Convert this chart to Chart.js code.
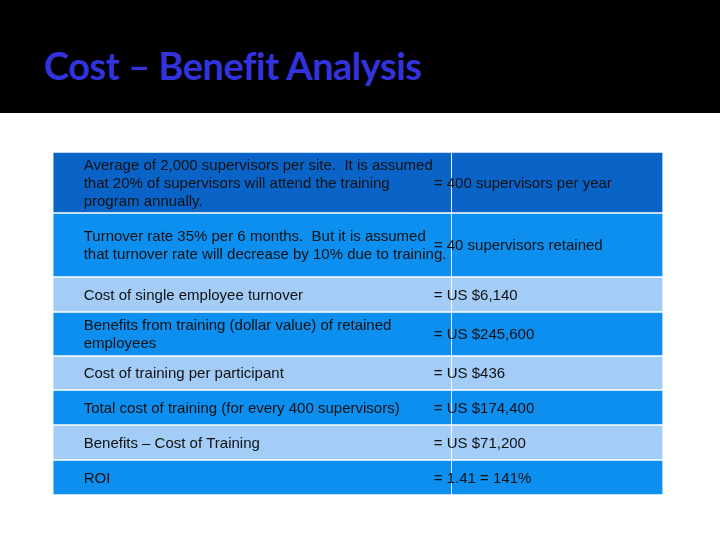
<!DOCTYPE html>
<html><head><meta charset="utf-8">
<script src="https://cdn.jsdelivr.net/npm/chart.js@4"></script>
<style>
html,body{margin:0;padding:0;background:#fff;}
#wrap{position:relative;width:720px;height:540px;}
#title{position:absolute;left:0;top:0;width:720px;height:113px;background:#000;}
#title span{position:absolute;left:44px;top:42px;font:bold 38px Lato,"Open Sans",sans-serif;color:#3333dd;letter-spacing:-0.5px;}
canvas{position:absolute;left:0;top:0;}
</style></head><body>
<div id="wrap"><canvas id="c" width="720" height="540"></canvas>
<div id="title"><span>Cost – Benefit Analysis</span></div></div>
<script>
const leftTexts = [
 ["Average of 2,000 supervisors per site.  It is assumed","that 20% of supervisors will attend the training","program annually."],
 ["Turnover rate 35% per 6 months.  But it is assumed","that turnover rate will decrease by 10% due to training."],
 ["Cost of single employee turnover"],
 ["Benefits from training (dollar value) of retained","employees"],
 ["Cost of training per participant"],
 ["Total cost of training (for every 400 supervisors)"],
 ["Benefits – Cost of Training"],
 ["ROI"]
];
const rightTexts = ["= 400 supervisors per year","= 40 supervisors retained","= US $6,140","= US $245,600","= US $436","= US $174,400","= US $71,200","= 1.41 = 141%"];
const rowHeights = [61,64,35,44,34,35,35,35];
const colWidths = [399,252];
const rowColors = ["#0a64c8","#0d8ff0","#a3cdf7","#0d8ff0","#a3cdf7","#0d8ff0","#a3cdf7","#0d8ff0"];

const tops=[]; let acc=0; rowHeights.forEach(h=>{tops.push(acc);acc+=h;});
const total=acc, tableW=colWidths[0]+colWidths[1];
const colStarts=[0,colWidths[0]];
const datasets=[];
rowHeights.forEach((h,i)=>{
  colWidths.forEach((w,j)=>{
    datasets.push({data:[{x:colStarts[j]+w/2,y:[tops[i],tops[i]+h]}],
      backgroundColor:rowColors[i],borderColor:"#ffffff",borderWidth:1,borderSkipped:false,
      barThickness:w,grouped:false,_row:i,_col:j});
  });
});
const textPlugin={id:'txt',afterDatasetsDraw(chart){
  const ctx=chart.ctx,xs=chart.scales.x,ys=chart.scales.y;
  ctx.save();ctx.fillStyle="#111";ctx.font="15px 'Liberation Sans',Arial,sans-serif";ctx.textBaseline="middle";
  rowHeights.forEach((h,i)=>{
    const cy=(ys.getPixelForValue(tops[i])+ys.getPixelForValue(tops[i]+h))/2;
    const lines=leftTexts[i],lh=18;
    lines.forEach((t,k)=>ctx.fillText(t,xs.getPixelForValue(0)+6,cy+(k-(lines.length-1)/2)*lh+1));
    ctx.fillText(rightTexts[i],xs.getPixelForValue(colStarts[1])+7,cy+1);
  });
  ctx.restore();}};
new Chart(document.getElementById('c'),{type:'bar',data:{datasets},
 options:{responsive:false,animation:false,devicePixelRatio:1,
  layout:{padding:{left:37,right:32,top:152,bottom:45}},
  plugins:{legend:{display:false},tooltip:{enabled:false}},
  scales:{x:{type:'linear',min:0,max:tableW,display:false},
          y:{type:'linear',min:0,max:total,reverse:true,display:false}}},
 plugins:[textPlugin]});
</script></body></html>
